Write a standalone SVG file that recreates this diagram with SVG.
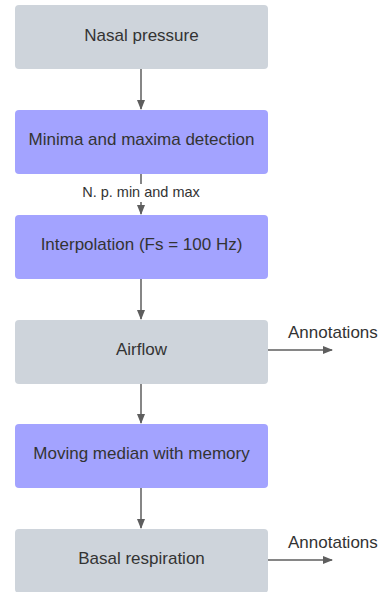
<svg xmlns="http://www.w3.org/2000/svg" width="380" height="592" viewBox="0 0 380 592">
<defs>
<style>
.g{fill:#ced4db}
.p{fill:#a3a3ff}
.t{font-family:"Liberation Sans",Arial,sans-serif;font-size:17px;fill:#333333;text-anchor:middle}
.s{font-family:"Liberation Sans",Arial,sans-serif;font-size:14.5px;fill:#333333;text-anchor:middle}
.a{font-family:"Liberation Sans",Arial,sans-serif;font-size:17px;fill:#333333}
.c{stroke:#5e5e5e;stroke-width:1.5;fill:none}
</style>
<marker id="ah" markerWidth="10" markerHeight="10" refX="9" refY="5" orient="auto" markerUnits="userSpaceOnUse">
<path d="M0,1 L10,5 L0,9 Z" fill="#5e5e5e"/>
</marker>
</defs>
<rect width="380" height="592" fill="#ffffff"/>
<g id="connectors">
<line class="c" x1="141" y1="69" x2="141" y2="109" marker-end="url(#ah)"/>
<line class="c" x1="141" y1="174" x2="141" y2="184"/>
<line class="c" x1="141" y1="202" x2="141" y2="214" marker-end="url(#ah)"/>
<line class="c" x1="141" y1="279" x2="141" y2="319" marker-end="url(#ah)"/>
<line class="c" x1="141" y1="384" x2="141" y2="423" marker-end="url(#ah)"/>
<line class="c" x1="141" y1="488" x2="141" y2="528" marker-end="url(#ah)"/>
<line class="c" x1="268" y1="350" x2="332" y2="350" marker-end="url(#ah)"/>
<line class="c" x1="268" y1="560" x2="332" y2="560" marker-end="url(#ah)"/>
<text class="s" x="141" y="197">N. p. min and max</text>
<text class="a" x="288" y="338">Annotations</text>
<text class="a" x="288" y="548">Annotations</text>
</g>
<g id="n1"><rect class="g" x="15" y="5" width="253" height="64" rx="4"/><text class="t" x="141.5" y="41">Nasal pressure</text></g>
<g id="n2"><rect class="p" x="15" y="110" width="253" height="64" rx="4"/><text class="t" x="141.5" y="145">Minima and maxima detection</text></g>
<g id="n3"><rect class="p" x="15" y="215" width="253" height="64" rx="4"/><text class="t" x="141.5" y="250">Interpolation (Fs = 100 Hz)</text></g>
<g id="n4"><rect class="g" x="15" y="320" width="253" height="64" rx="4"/><text class="t" x="141.5" y="355">Airflow</text></g>
<g id="n5"><rect class="p" x="15" y="424" width="253" height="64" rx="4"/><text class="t" x="141.5" y="459">Moving median with memory</text></g>
<g id="n6"><rect class="g" x="15" y="529" width="253" height="64" rx="4"/><text class="t" x="141.5" y="564">Basal respiration</text></g>
</svg>
